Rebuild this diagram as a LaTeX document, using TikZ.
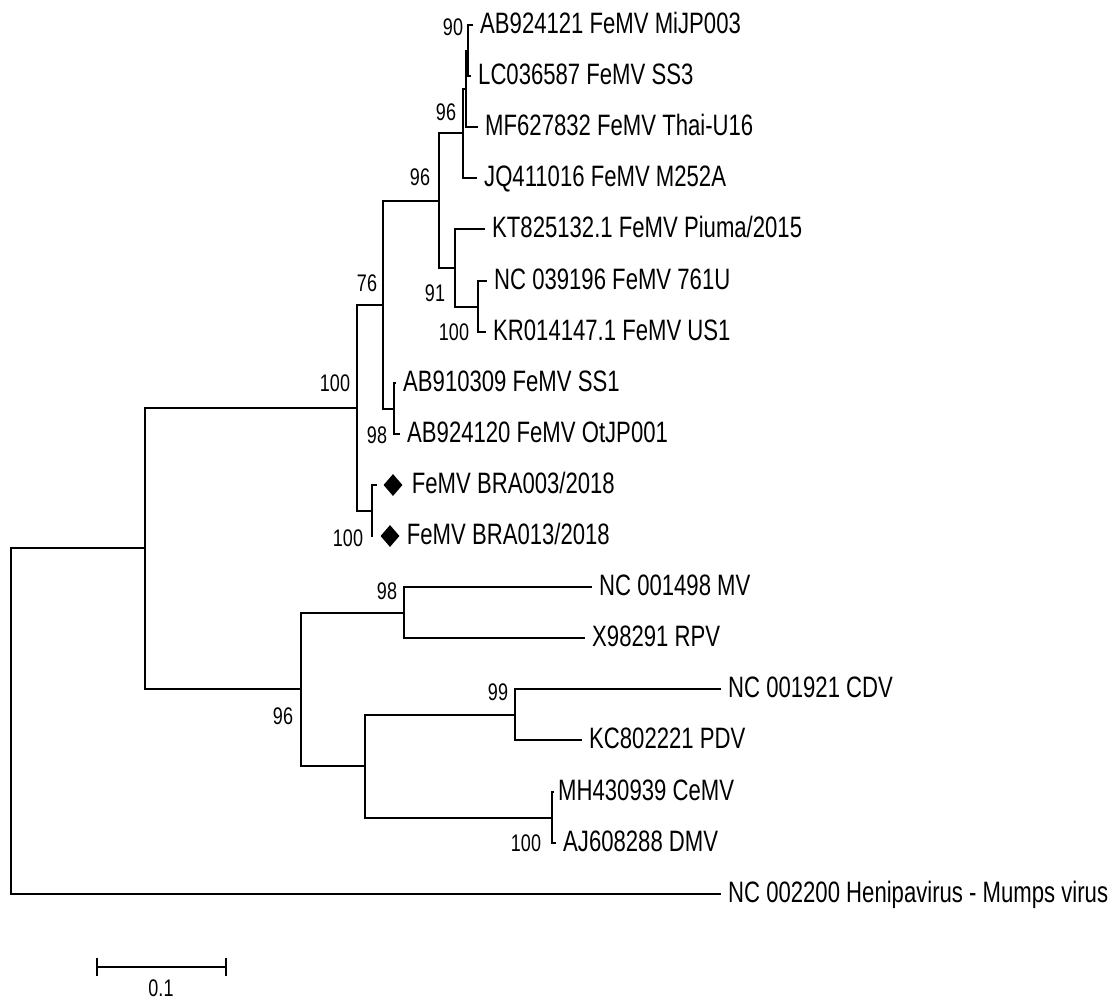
\documentclass[tikz,border=0pt]{standalone}
\usepackage{fontspec}
\setmainfont{Liberation Sans}[FakeStretch=0.75]
\usetikzlibrary{shapes.geometric}
\begin{document}
\begin{tikzpicture}[x=1pt,y=-1pt,
  branch/.style={line width=2pt, line join=miter},
  leaf/.style={font=\fontsize{29.5}{32}\selectfont, anchor=base west, inner sep=0pt, xshift=7pt, yshift=-8.5pt},
  boot/.style={font=\fontsize{24}{26}\selectfont, inner sep=0pt, anchor=center},
  diam/.style={diamond, fill=black, inner sep=0pt, minimum width=19pt, minimum height=22pt},
  scalelab/.style={font=\fontsize{24}{26}\selectfont, inner sep=0pt, anchor=center}]
\useasboundingbox (0,0) rectangle (1116,1001);
% leaf tips
\coordinate (tAB1) at (473,25);
\coordinate (tLC) at (471,76);
\coordinate (tMF) at (478,127);
\coordinate (tJQ) at (477,178);
\coordinate (tKT) at (485,229);
\coordinate (tNC39) at (487,281);
\coordinate (tKR) at (486,332);
\coordinate (tAB9) at (396,383);
\coordinate (tAB0) at (400,434);
\coordinate (tB3) at (377,485);
\coordinate (tB13) at (373,536);
\coordinate (tMV) at (592,587);
\coordinate (tRPV) at (585,638);
\coordinate (tCDV) at (721,689);
\coordinate (tPDV) at (582,740);
\coordinate (tCeMV) at (554,792);
\coordinate (tDMV) at (556,843);
\coordinate (tHen) at (721,894);
% internal nodes
\coordinate (nA) at (468,50.5);
\coordinate (nB) at (466,88.75);
\coordinate (nC) at (463,133.4);
\coordinate (nF) at (478,306.5);
\coordinate (nE) at (455,267.75);
\coordinate (nD) at (439,200.6);
\coordinate (nH) at (394,408.5);
\coordinate (nG) at (383,304.5);
\coordinate (nJ) at (372,510.5);
\coordinate (nI) at (357,407.5);
\coordinate (nM) at (404,612.5);
\coordinate (nO) at (515,714.5);
\coordinate (nP) at (552,817.5);
\coordinate (nN) at (365,766);
\coordinate (nL) at (301,689.25);
\coordinate (nK) at (145,548.4);
\coordinate (nR) at (11,721);
% branches
\draw[branch] (nA) |- (tAB1);
\draw[branch] (nA) |- (tLC);
\draw[branch] (nB) |- (nA);
\draw[branch] (nB) |- (tMF);
\draw[branch] (nC) |- (nB);
\draw[branch] (nC) |- (tJQ);
\draw[branch] (nF) |- (tNC39);
\draw[branch] (nF) |- (tKR);
\draw[branch] (nE) |- (tKT);
\draw[branch] (nE) |- (nF);
\draw[branch] (nD) |- (nC);
\draw[branch] (nD) |- (nE);
\draw[branch] (nH) |- (tAB9);
\draw[branch] (nH) |- (tAB0);
\draw[branch] (nG) |- (nD);
\draw[branch] (nG) |- (nH);
\draw[branch] (nJ) |- (tB3);
\draw[branch] (nJ) |- (tB13);
\draw[branch] (nI) |- (nG);
\draw[branch] (nI) |- (nJ);
\draw[branch] (nM) |- (tMV);
\draw[branch] (nM) |- (tRPV);
\draw[branch] (nO) |- (tCDV);
\draw[branch] (nO) |- (tPDV);
\draw[branch] (nP) |- (tCeMV);
\draw[branch] (nP) |- (tDMV);
\draw[branch] (nN) |- (nO);
\draw[branch] (nN) |- (nP);
\draw[branch] (nL) |- (nM);
\draw[branch] (nL) |- (nN);
\draw[branch] (nK) |- (nI);
\draw[branch] (nK) |- (nL);
\draw[branch] (nR) |- (nK);
\draw[branch] (nR) |- (tHen);
% leaf labels
\node[leaf] (lAB1) at (tAB1) {AB924121 FeMV MiJP003};
\node[leaf] (lLC) at (tLC) {LC036587 FeMV SS3};
\node[leaf] (lMF) at (tMF) {MF627832 FeMV Thai-U16};
\node[leaf] (lJQ) at (tJQ) {JQ411016 FeMV M252A};
\node[leaf] (lKT) at (tKT) {KT825132.1 FeMV Piuma/2015};
\node[leaf] (lNC39) at (tNC39) {NC 039196 FeMV 761U};
\node[leaf] (lKR) at (tKR) {KR014147.1 FeMV US1};
\node[leaf] (lAB9) at (tAB9) {AB910309 FeMV SS1};
\node[leaf] (lAB0) at (tAB0) {AB924120 FeMV OtJP001};
\node[diam] (dB3) at ([xshift=16pt]tB3) {};
\node[diam] (dB13) at ([xshift=17pt]tB13) {};
\node[leaf, xshift=2pt] (lB3) at (dB3.east) {FeMV BRA003/2018};
\node[leaf] (lB13) at (dB13.east) {FeMV BRA013/2018};
\node[leaf] (lMV) at (tMV) {NC 001498 MV};
\node[leaf] (lRPV) at (tRPV) {X98291 RPV};
\node[leaf] (lCDV) at (tCDV) {NC 001921 CDV};
\node[leaf] (lPDV) at (tPDV) {KC802221 PDV};
\node[leaf, xshift=-3pt] (lCeMV) at (tCeMV) {MH430939 CeMV};
\node[leaf] (lDMV) at (tDMV) {AJ608288 DMV};
\node[leaf] (lHen) at (tHen) {NC 002200 Henipavirus - Mumps virus};
% bootstrap values
\node[boot] (b90) at (453,27) {90};
\node[boot] (b96a) at (446,112) {96};
\node[boot] (b96b) at (420,177) {96};
\node[boot] (b91) at (435,293) {91};
\node[boot] (b100a) at (454,332) {100};
\node[boot] (b76) at (367,283) {76};
\node[boot] (b100b) at (335,383) {100};
\node[boot] (b98a) at (377,435) {98};
\node[boot] (b100c) at (348,538) {100};
\node[boot] (b98b) at (387,591) {98};
\node[boot] (b96c) at (283,716) {96};
\node[boot] (b99) at (498,692) {99};
\node[boot] (b100d) at (526,843) {100};
% scale bar
\coordinate (sL) at (97,967);
\coordinate (sR) at (226,967);
\draw[branch] (sL) -- (sR);
\draw[branch] ([yshift=9pt]sL) -- ([yshift=-9pt]sL);
\draw[branch] ([yshift=9pt]sR) -- ([yshift=-9pt]sR);
\node[scalelab] (s01) at (161,988) {0.1};
\end{tikzpicture}
\end{document}
